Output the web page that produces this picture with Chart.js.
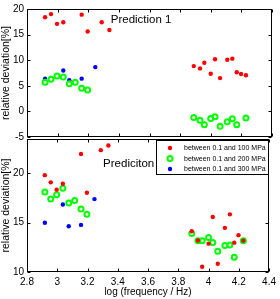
<!DOCTYPE html>
<html>
<head>
<meta charset="utf-8">
<script src="https://cdn.jsdelivr.net/npm/chart.js@4"></script>
<style>
  html, body { margin: 0; padding: 0; background: #fff; }
  #wrap { position: relative; width: 280px; height: 299px; overflow: hidden; }
  #wrap canvas { position: absolute; left: 0; }
</style>
</head>
<body>
<div id="wrap">
  <canvas id="top" width="280" height="150" style="top:0"></canvas>
  <canvas id="bottom" width="280" height="169" style="top:130px"></canvas>
</div>
<script>
// log(frequency / Hz) of each series
const redFreq = [2.918, 2.957, 2.996, 3.037, 3.157, 3.196, 3.288, 3.338,
    3.889, 3.93, 3.958, 4.0, 4.028, 4.061, 4.108, 4.141, 4.17, 4.198, 4.23];
const greenFreq = [2.918, 2.957, 2.996, 3.037, 3.076, 3.115, 3.157, 3.196,
    3.889, 3.93, 3.958, 4.0, 4.028, 4.061, 4.108, 4.141, 4.17, 4.23];
const blueFreq = [2.918, 3.037, 3.076, 3.157, 3.246];

// relative deviation [%]
const pred1Red = [18.4, 19.0, 17.1, 17.4, 18.9, 15.6, 17.4, 15.9,
    8.85, 8.4, 9.5, 7.35, 10.2, 6.5, 10.1, 10.3, 7.66, 7.3, 7.05];
const pred1Green = [5.67, 6.3, 6.9, 6.7, 5.4, 5.7, 4.5, 4.2,
    -1.2, -1.75, -2.6, -1.4, -1.05, -2.9, -2.0, -1.44, -2.6, -1.3];
const pred1Blue = [6.4, 8.0, 6.1, 6.4, 8.65];

const pred2Red = [19.83, 19.1, 18.36, 18.96, 21.97, 18.05, 22.37, 22.84,
    14.14, 13.2, 10.53, 12.88, 15.59, 10.83, 14.48, 15.85, 12.98, 13.74, 13.18];
const pred2Green = [18.12, 17.4, 17.85, 18.5, 17.0, 17.25, 16.4, 15.85,
    13.9, 13.18, 13.18, 13.5, 13.0, 12.1, 12.7, 12.74, 11.5, 13.18];
const pred2Blue = [15.0, 16.85, 14.64, 14.78, 17.4];

const seriesLabels = ['between 0.1 and 100 MPa', 'between 0.1 and 200 MPa', 'between 0.1 and 300 MPa'];
const xTicks = [2.8, 3, 3.2, 3.4, 3.6, 3.8, 4, 4.2, 4.4];

const FONT = 'Liberation Sans, Arial, Helvetica, sans-serif';

function pts(xs, ys) {
    return xs.map((x, i) => ({x: x, y: ys[i]}));
}

function datasets(red, green, blue) {
    return [
        {label: seriesLabels[0], data: pts(redFreq, red), pointRadius: 2.2,
            backgroundColor: '#ff0000', borderWidth: 0},
        {label: seriesLabels[1], data: pts(greenFreq, green), pointRadius: 2.5,
            backgroundColor: 'rgba(0,0,0,0)', borderColor: '#00ff00', borderWidth: 2},
        {label: seriesLabels[2], data: pts(blueFreq, blue), pointRadius: 2.2,
            backgroundColor: '#0000ff', borderWidth: 0}
    ];
}

// box round the axes with inward ticks, matlab style
const frame = {
    id: 'frame',
    afterDatasetsDraw(chart) {
        const {ctx, chartArea: a, scales: {x, y}} = chart;
        const l = Math.round(a.left) + 0.5, r = Math.round(a.right) - 0.5;
        const t = Math.round(a.top) + 0.5, b = Math.round(a.bottom) - 0.5;
        ctx.save();
        ctx.strokeStyle = '#000';
        ctx.lineWidth = 1;
        ctx.strokeRect(l, t, r - l, b - t);
        ctx.beginPath();
        xTicks.forEach(v => {
            const px = Math.round(x.getPixelForValue(v)) + 0.5;
            ctx.moveTo(px, b); ctx.lineTo(px, b - 3);
            ctx.moveTo(px, t); ctx.lineTo(px, t + 3);
        });
        y.ticks.forEach(tk => {
            const py = Math.round(y.getPixelForValue(tk.value)) + 0.5;
            ctx.moveTo(l, py); ctx.lineTo(l + 3, py);
            ctx.moveTo(r, py); ctx.lineTo(r - 3, py);
        });
        ctx.stroke();
        ctx.restore();
    }
};

const panelLabel = {
    id: 'panelLabel',
    afterDatasetsDraw(chart, args, opts) {
        const {ctx, scales: {x, y}} = chart;
        ctx.save();
        ctx.font = '11.5px ' + FONT;
        ctx.fillStyle = '#000';
        ctx.textBaseline = 'middle';
        ctx.fillText(opts.text, x.getPixelForValue(opts.x), y.getPixelForValue(opts.y));
        ctx.restore();
    }
};

const boxLegend = {
    id: 'boxLegend',
    afterDraw(chart, args, opts) {
        if (!opts.show) return;
        const {ctx, chartArea: a} = chart;
        const w = 113, h = 35;
        const left = Math.round(a.right) - w, top = Math.round(a.top) + 1;
        ctx.save();
        ctx.fillStyle = '#fff';
        ctx.fillRect(left, top, w, h);
        ctx.strokeStyle = '#000';
        ctx.lineWidth = 1;
        ctx.strokeRect(left + 0.5, top + 0.5, w - 1, h - 1);
        ctx.font = '7px ' + FONT;
        ctx.textBaseline = 'middle';
        chart.data.datasets.forEach((ds, i) => {
            const cy = top + 8 + i * 10.5;
            const cx = left + 14;
            ctx.beginPath();
            ctx.arc(cx, cy, ds.pointRadius, 0, Math.PI * 2);
            if (ds.borderWidth) {
                ctx.strokeStyle = ds.borderColor;
                ctx.lineWidth = ds.borderWidth;
                ctx.stroke();
            } else {
                ctx.fillStyle = ds.backgroundColor;
                ctx.fill();
            }
            ctx.fillStyle = '#000';
            ctx.fillText(ds.label, left + 28, cy + 0.5);
        });
        ctx.restore();
    }
};

function makeChart(id, sets, yMin, yMax, showX, label, legend, padTop, padBottom) {
    return new Chart(document.getElementById(id), {
        type: 'scatter',
        data: {datasets: sets},
        plugins: [frame, panelLabel, boxLegend],
        options: {
            responsive: false,
            animation: false,
            layout: {padding: {top: padTop, right: 8, bottom: padBottom, left: 0}},
            plugins: {
                legend: {display: false},
                tooltip: {enabled: false},
                panelLabel: label,
                boxLegend: {show: legend}
            },
            scales: {
                x: {
                    display: showX,
                    min: 2.8, max: 4.4,
                    afterBuildTicks: s => { s.ticks = xTicks.map(v => ({value: v})); },
                    grid: {display: false, drawTicks: false},
                    border: {display: false},
                    ticks: {font: {family: FONT, size: 10}, color: '#000', padding: 4,
                        callback: v => String(v)},
                    title: {display: true, text: 'log (frequency / Hz)',
                        font: {family: FONT, size: 10}, color: '#000', padding: {top: 0, bottom: 1}},
                    afterFit: s => { if (showX) s.height = 27; }
                },
                y: {
                    min: yMin, max: yMax,
                    grid: {display: false, drawTicks: false},
                    border: {display: false},
                    ticks: {stepSize: 5, includeBounds: false, font: {family: FONT, size: 10},
                        color: '#000', padding: 3},
                    title: {display: true, text: 'relative deviation[%]',
                        font: {family: FONT, size: 10.5}, color: '#000', padding: 0},
                    afterFit: s => { s.width = 27; }
                }
            }
        }
    });
}

makeChart('top', datasets(pred1Red, pred1Green, pred1Blue), -5, 20, false,
    {text: 'Prediction 1', x: 3.347, y: 17.9}, false, 3, 13);
makeChart('bottom', datasets(pred2Red, pred2Green, pred2Blue), 10, 23.5, true,
    {text: 'Prediciton 2', x: 3.303, y: 20.96}, true, 7, 0);
</script>
</body>
</html>
